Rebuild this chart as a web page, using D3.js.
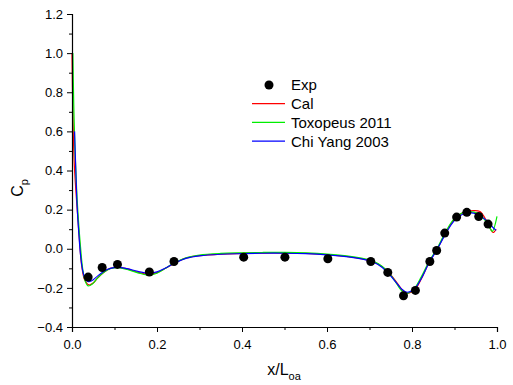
<!DOCTYPE html>
<html>
<head>
<meta charset="utf-8">
<script src="https://cdn.jsdelivr.net/npm/d3@7/dist/d3.min.js"></script>
<style>
  body { margin: 0; background: #fff; }
  text { font-family: "Liberation Sans", Arial, sans-serif; fill: #000; }
</style>
</head>
<body>
<div id="chart"></div>
<script>
// Experimental points
var expX = [0.038, 0.071, 0.107, 0.182, 0.240, 0.404, 0.501, 0.602, 0.703, 0.743, 0.780, 0.808, 0.842, 0.858, 0.877, 0.905, 0.929, 0.957, 0.979]
var expY = [-0.145, -0.096, -0.080, -0.119, -0.065, -0.043, -0.043, -0.051, -0.065, -0.121, -0.240, -0.213, -0.065, -0.009, 0.080, 0.162, 0.186, 0.165, 0.126]

// Cal (red)
var calX = [0, 0.002, 0.005, 0.009, 0.013, 0.018, 0.023, 0.03, 0.04, 0.05, 0.06, 0.075, 0.09, 0.11, 0.13, 0.155, 0.18, 0.2, 0.22, 0.24, 0.27, 0.3, 0.35, 0.4, 0.45, 0.5, 0.55, 0.6, 0.65, 0.7, 0.72, 0.74, 0.76, 0.775, 0.787, 0.8, 0.81, 0.825, 0.84, 0.86, 0.88, 0.9, 0.92, 0.944, 0.96, 0.976, 0.985, 0.991, 0.998]
var calY = [1.0, 0.7, 0.45, 0.3, 0.18, 0.03, -0.09, -0.16, -0.185, -0.175, -0.15, -0.12, -0.1, -0.095, -0.103, -0.12, -0.13, -0.122, -0.1, -0.075, -0.047, -0.035, -0.027, -0.024, -0.022, -0.022, -0.024, -0.03, -0.04, -0.06, -0.078, -0.11, -0.16, -0.205, -0.228, -0.22, -0.2, -0.14, -0.07, 0.0, 0.085, 0.15, 0.185, 0.195, 0.19, 0.14, 0.1, 0.083, 0.1]

// Toxopeus 2011 (green)
var toxX = [0.002, 0.004, 0.007, 0.011, 0.015, 0.02, 0.025, 0.031, 0.038, 0.048, 0.06, 0.075, 0.09, 0.11, 0.13, 0.155, 0.18, 0.2, 0.22, 0.24, 0.27, 0.3, 0.35, 0.4, 0.45, 0.5, 0.55, 0.6, 0.65, 0.7, 0.72, 0.74, 0.76, 0.772, 0.784, 0.8, 0.81, 0.825, 0.84, 0.86, 0.88, 0.9, 0.92, 0.935, 0.955, 0.972, 0.982, 0.989, 1.0]
var toxY = [1.0, 0.75, 0.5, 0.3, 0.15, 0.01, -0.1, -0.165, -0.19, -0.18, -0.15, -0.12, -0.102, -0.097, -0.106, -0.123, -0.135, -0.125, -0.1, -0.073, -0.045, -0.032, -0.024, -0.021, -0.019, -0.019, -0.021, -0.027, -0.038, -0.058, -0.076, -0.11, -0.165, -0.205, -0.23, -0.215, -0.19, -0.13, -0.065, 0.005, 0.09, 0.155, 0.185, 0.19, 0.18, 0.145, 0.11, 0.089, 0.165]

// Chi Yang 2003 (blue)
var chiX = [0.006, 0.009, 0.012, 0.016, 0.02, 0.025, 0.031, 0.037, 0.042, 0.05, 0.06, 0.075, 0.09, 0.11, 0.13, 0.155, 0.18, 0.2, 0.22, 0.24, 0.27, 0.3, 0.35, 0.4, 0.45, 0.5, 0.55, 0.6, 0.65, 0.7, 0.72, 0.74, 0.76, 0.775, 0.787, 0.8, 0.81, 0.825, 0.84, 0.86, 0.88, 0.9, 0.92, 0.935, 0.955, 0.975, 0.99, 0.998]
var chiY = [0.6, 0.4, 0.22, 0.08, -0.03, -0.11, -0.155, -0.167, -0.167, -0.158, -0.14, -0.115, -0.1, -0.095, -0.102, -0.116, -0.125, -0.118, -0.098, -0.075, -0.048, -0.036, -0.028, -0.025, -0.023, -0.023, -0.025, -0.031, -0.042, -0.062, -0.08, -0.115, -0.165, -0.205, -0.222, -0.215, -0.195, -0.14, -0.072, 0.0, 0.08, 0.145, 0.178, 0.185, 0.175, 0.145, 0.11, 0.094]

var xTicks = [0, 0.2, 0.4, 0.6, 0.8, 1.0]
var yTicks = [-0.4, -0.2, 0, 0.2, 0.4, 0.6, 0.8, 1.0, 1.2]

var series = [
  { name: "Cal", color: "#ff0000", xs: calX, ys: calY },
  { name: "Toxopeus 2011", color: "#00ee00", xs: toxX, ys: toxY },
  { name: "Chi Yang 2003", color: "#0000ff", xs: chiX, ys: chiY }
]

var W = 513, H = 385

var svg = d3.select("#chart").append("svg")
  .attr("width", W)
  .attr("height", H)

var x = d3.scaleLinear().domain([0, 1]).range([72, 497])
var y = d3.scaleLinear().domain([-0.4, 1.2]).range([327, 14])

// Curves
var line = d3.line()
  .x((d) => x(d[0]))
  .y((d) => y(d[1]))
  .curve(d3.curveCatmullRom.alpha(0.5))

series.forEach((s) => {
  svg.append("path")
    .datum(d3.zip(s.xs, s.ys))
    .attr("fill", "none")
    .attr("stroke", s.color)
    .attr("stroke-width", 1.2)
    .attr("d", line)
})

// Exp points
svg.selectAll(".dot")
  .data(d3.zip(expX, expY))
  .enter()
  .append("circle")
  .attr("class", "dot")
  .attr("cx", (d) => x(d[0]))
  .attr("cy", (d) => y(d[1]))
  .attr("r", 4.5)
  .attr("fill", "#000")

// Axes
var xAxis = svg.append("g")
  .attr("transform", "translate(0,327)")
  .call(d3.axisBottom(x).tickValues(xTicks).tickFormat(d3.format(".1f")).tickSize(5).tickPadding(8))
xAxis.selectAll("text").attr("font-size", 13).attr("font-family", "Liberation Sans, Arial, sans-serif").attr("fill", "#222")

var yAxis = svg.append("g")
  .attr("transform", "translate(72,0)")
  .call(d3.axisLeft(y).tickValues(yTicks).tickFormat(d3.format(".1f")).tickSize(5).tickPadding(4))
yAxis.selectAll("text").attr("font-size", 13).attr("font-family", "Liberation Sans, Arial, sans-serif").attr("fill", "#222")

// minor ticks
svg.append("g")
  .attr("transform", "translate(0,327)")
  .call(d3.axisBottom(x).tickValues([0.1, 0.3, 0.5, 0.7, 0.9]).tickFormat("").tickSize(3))
  .select(".domain").remove()
svg.append("g")
  .attr("transform", "translate(72,0)")
  .call(d3.axisLeft(y).tickValues([-0.3, -0.1, 0.1, 0.3, 0.5, 0.7, 0.9, 1.1]).tickFormat("").tickSize(3))
  .select(".domain").remove()

svg.selectAll(".domain").attr("stroke", "#000").attr("stroke-width", 1.2)
svg.selectAll(".tick line").attr("stroke", "#000")

// Axis titles
var xt = svg.append("text")
  .attr("x", 284)
  .attr("y", 375)
  .attr("text-anchor", "middle")
  .attr("font-size", 16)
xt.append("tspan").text("x/L")
xt.append("tspan").attr("font-size", 11).attr("dy", 5).text("oa")

var yt = svg.append("text")
  .attr("transform", "translate(23,188) rotate(-90)")
  .attr("text-anchor", "middle")
  .attr("font-size", 16)
yt.append("tspan").text("C")
yt.append("tspan").attr("font-size", 11).attr("dy", 5).text("p")

// Legend
var legend = svg.append("g")
var legendItems = [{ name: "Exp", type: "dot" }].concat(series.map((s) => ({ name: s.name, color: s.color, type: "line" })))
var legendRows = legend.selectAll("g")
  .data(legendItems)
  .enter()
  .append("g")
  .attr("transform", (d, i) => "translate(252," + (85 + i * 18.7) + ")")

legendRows.filter((d) => d.type === "dot")
  .append("circle")
  .attr("cx", 17)
  .attr("cy", 0)
  .attr("r", 4.5)
  .attr("fill", "#000")

legendRows.filter((d) => d.type === "line")
  .append("line")
  .attr("x1", 0)
  .attr("x2", 33)
  .attr("stroke", (d) => d.color)
  .attr("stroke-width", 1.2)

legendRows.append("text")
  .attr("x", 39)
  .attr("dy", "0.36em")
  .attr("font-size", 15)
  .text((d) => d.name)
</script>
</body>
</html>
